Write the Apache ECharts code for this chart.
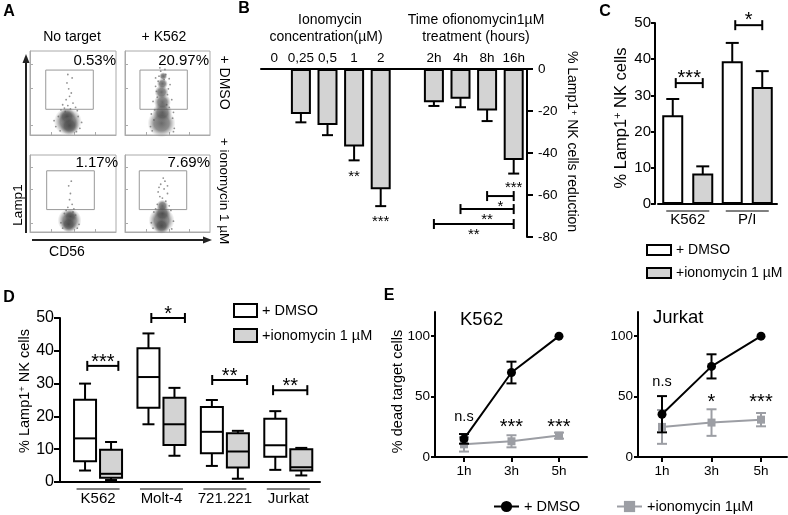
<!DOCTYPE html>
<html><head><meta charset="utf-8">
<script src="https://cdn.jsdelivr.net/npm/echarts@6/dist/echarts.min.js"></script>
<style>html,body{margin:0;padding:0;background:#fff}#c{width:788px;height:515px}</style>
</head><body><div id="c"></div>
<script>
const FONT = '"Liberation Sans", Arial, Helvetica, sans-serif';

// ---------- Panel A : flow cytometry (hand-placed density blobs and dots, data units 0-100) ----------
const flowColTitles = ['No target', '+ K562'];
const flowRowTitles = ['+ DMSO', '+ ionomycin 1 µM'];
const flowPct = ['0.53%', '20.97%', '1.17%', '7.69%'];
const flowCoresNoTargetDMSO = [[44,16,28],[43,22,17],[46,11,19]];
const flowDotsNoTargetDMSO = [[40,32],[44,35],[47,31],[50,38],[42,42],[46,46],[38,36],[53,33],[45,55],[43,62],[48,50],[41,28],[36,30],[55,29],[49,68],[44,72],[30,10],[58,8],[33,22],[56,22],[35,5],[54,4],[60,15],[28,17]];
const flowCoresK562DMSO = [[43,14,28],[44,27,20],[44,39,17],[43,51,14],[44,61,11],[45,70,8]];
const flowDotsK562DMSO = [[35,30],[52,33],[38,45],[50,48],[36,58],[53,60],[40,70],[48,72],[33,40],[55,42],[42,76],[46,66],[31,25],[57,27],[37,52],[51,55],[39,64],[49,36],[34,18],[56,20],[30,10],[58,8],[41,80],[47,78],[36,68],[52,67],[32,5],[57,4]];
const flowCoresNoTargetIono = [[46,15,24],[47,20,14],[45,10,16]];
const flowDotsNoTargetIono = [[44,32],[49,36],[46,42],[51,30],[42,28],[47,50],[45,60],[50,26],[40,24],[53,22],[36,12],[57,10],[38,5],[55,5],[48,66]];
const flowCoresK562Iono = [[43,15,26],[44,24,17],[44,34,12],[43,8,16]];
const flowDotsK562Iono = [[38,36],[48,40],[41,46],[50,50],[36,30],[46,56],[42,62],[52,34],[39,52],[47,66],[34,26],[54,28],[44,44],[31,12],[57,14],[33,5],[55,4],[45,70],[40,58],[50,60]];
const flowGates = [[18.3,30.6,73.6,77.3],[17.6,30.6,73.3,77.3],[19.4,29.1,74.8,79.5],[16.8,29.1,72.6,79.5]];
const flowXTicks = [25,52,76];
const flowYTicks = [12,56,84];

// ---------- Panel B ----------
const concCats = ['0','0,25','0,5','1','2','','2h','4h','8h','16h'];
const reductionMean = ['-', -21.4, -26.7, -36.9, -57.3, '-', -15.8, -14.2, -19.8, -43.3];
const reductionErr = [null, 4, 4.8, 6.6, 8, null, 1.8, 4, 5, 6.5];
const reductionStars = [[3,-49.5,'**'],[4,-71,'***'],[9,-54.8,'***']];
const reductionBrackets = [[8,9,-60.5,'*'],[7,9,-66.7,'**'],[6,9,-73.8,'**']];

// ---------- Panel C ----------
const cCats = ['K562','P/I'];
const cDMSO = [24.5, 39.4];
const cDMSOErr = [4.5, 5.1];
const cIono = [8.4, 32.3];
const cIonoErr = [2.0, 4.4];
const cBrackets = [[0, 33.4, '***'], [1, 49.4, '*']];

// ---------- Panel D ----------
const dCats = ['K562','Molt-4','721.221','Jurkat'];
// [min, Q1, median, Q3, max]
const dDMSO = [[3.5,6.3,13.3,25.1,30],[17.6,22.6,32,40.8,45.3],[4.9,8.8,15.3,22.9,25],[3.7,7.7,11.2,19.3,21.6]];
const dIono = [[0.6,1.3,2.5,9.8,12.2],[8,11.3,17.6,25.7,28.7],[1,4.4,9.3,14.9,15.6],[2,3.5,4.5,10,10.4]];
const dBrackets = [[-0.17,0.32,35.4,'***'],[0.84,1.37,50,'*'],[1.8,2.35,31.1,'**'],[2.76,3.3,28,'**']];

// ---------- Panel E ----------
const eTimes = [1,3,5];
const eTimeLabels = ['1h','3h','5h'];
const k562DMSO = [15, 69.9, 100];
const k562DMSOErr = [4, 9, 0];
const k562Iono = [10.5, 13, 17.7];
const k562IonoErr = [6, 5, 2.5];
const jurkatDMSO = [35.4, 75, 100];
const jurkatDMSOErr = [15, 10, 0];
const jurkatIono = [24.9, 28.5, 30.9];
const jurkatIonoErr = [14, 11, 5.5];
const k562Sig = [[1,33,'n.s'],[3,29,'***'],[5,29,'***']];
const jurkatSig = [[1,62,'n.s'],[3,49.6,'*'],[5,49.6,'***']];

// ---------------- helpers ----------------
function starText(x, yGlyph, text, fs) {
  const isStar = text.indexOf('*') >= 0;
  return {type:'text', x: x, y: yGlyph + (isStar ? 0.27*fs : 0), z2: 10,
    style:{text: text, fontSize: fs, fontFamily: FONT, fill:'#000',
      align:'center', verticalAlign:'middle', textAlign:'center', textVerticalAlign:'middle'}};
}
function errRender(offset, color, cap, lw) {
  return function (params, api) {
    const x = api.value(0), m = api.value(1), e = api.value(2);
    const top = api.coord([x, m + e]), bot = api.coord([x, m - e]);
    const cx = top[0] + offset;
    const st = {stroke: color, lineWidth: lw};
    return {type:'group', children:[
      {type:'line', shape:{x1:cx, y1:top[1], x2:cx, y2:bot[1]}, style:st},
      {type:'line', shape:{x1:cx-cap, y1:top[1], x2:cx+cap, y2:top[1]}, style:st},
      {type:'line', shape:{x1:cx-cap, y1:bot[1], x2:cx+cap, y2:bot[1]}, style:st}
    ]};
  };
}
function errData(xs, means, errs) {
  const out = [];
  xs.forEach((x, i) => { if (errs[i]) out.push([x, means[i], errs[i]]); });
  return out;
}
function underlineRender(half) {
  return function (params, api) {
    const p = api.coord([api.value(0), 0]);
    return {type:'line', shape:{x1:p[0]-half, y1:p[1]+7, x2:p[0]+half, y2:p[1]+7}, style:{stroke:'#000', lineWidth:1}};
  };
}
function bracketGroup(xa, xb, y, text, below, fs, gap) {
  const st = {stroke:'#000', lineWidth:2};
  return {type:'group', children:[
    {type:'line', shape:{x1:xa, y1:y, x2:xb, y2:y}, style:st},
    {type:'line', shape:{x1:xa, y1:y-5, x2:xa, y2:y+5}, style:st},
    {type:'line', shape:{x1:xb, y1:y-5, x2:xb, y2:y+5}, style:st},
    starText((xa+xb)/2, below ? y + gap : y - gap, text, fs)
  ]};
}
function boxRender(offset, fill) {
  return function (params, api) {
    const i = api.value(0);
    const p = [1,2,3,4,5].map(k => api.coord([i, api.value(k)]));
    const cx = p[0][0] + offset, hw = 11, cw = 6;
    const st = {stroke:'#000', lineWidth:2};
    return {type:'group', children:[
      {type:'line', shape:{x1:cx, y1:p[4][1], x2:cx, y2:p[3][1]}, style:st},
      {type:'line', shape:{x1:cx, y1:p[1][1], x2:cx, y2:p[0][1]}, style:st},
      {type:'line', shape:{x1:cx-cw, y1:p[4][1], x2:cx+cw, y2:p[4][1]}, style:st},
      {type:'line', shape:{x1:cx-cw, y1:p[0][1], x2:cx+cw, y2:p[0][1]}, style:st},
      {type:'rect', shape:{x:cx-hw, y:p[3][1], width:2*hw, height:p[1][1]-p[3][1]}, style:{fill:fill, stroke:'#000', lineWidth:2}},
      {type:'line', shape:{x1:cx-hw, y1:p[2][1], x2:cx+hw, y2:p[2][1]}, style:st}
    ]};
  };
}

const chart = echarts.init(document.getElementById('c'), null, {renderer:'canvas'});

// ---------------- grids ----------------
const grids = [
  {left:30, top:51, width:86, height:84, show:true, borderColor:'#aaa', borderWidth:1, backgroundColor:'#fff'},
  {left:125, top:51, width:85, height:84, show:true, borderColor:'#aaa', borderWidth:1, backgroundColor:'#fff'},
  {left:30, top:155, width:86, height:77, show:true, borderColor:'#aaa', borderWidth:1, backgroundColor:'#fff'},
  {left:125, top:155, width:85, height:77, show:true, borderColor:'#aaa', borderWidth:1, backgroundColor:'#fff'},
  {left:261, top:69, width:266, height:168},
  {left:658, top:23, width:119, height:181},
  {left:60, top:318, width:260, height:164},
  {left:435, top:312, width:152, height:145},
  {left:638, top:312, width:149, height:145}
];

const xAxes = [], yAxes = [];
for (let i = 0; i < 4; i++) {
  xAxes.push({gridIndex:i, type:'value', min:0, max:100, axisLine:{onZero:false, lineStyle:{color:'#aaa', width:1}},
    axisTick:{inside:true, length:3, customValues:flowXTicks, lineStyle:{color:'#aaa'}}, axisLabel:{show:false}, splitLine:{show:false}});
  yAxes.push({gridIndex:i, type:'value', min:0, max:100, axisLine:{onZero:false, lineStyle:{color:'#aaa', width:1}},
    axisTick:{inside:true, length:3, customValues:flowYTicks, lineStyle:{color:'#aaa'}}, axisLabel:{show:false}, splitLine:{show:false}});
}
const blackLine = {onZero:false, lineStyle:{color:'#000', width:2}};
// B
xAxes.push({gridIndex:4, type:'category', data:concCats, position:'top', axisLine:blackLine, axisTick:{show:false},
  axisLabel:{fontSize:13.5, margin:4, color:'#000', fontFamily:FONT, interval:0}});
yAxes.push({gridIndex:4, type:'value', min:-80, max:0, interval:20, position:'right', axisLine:{show:true, onZero:false, lineStyle:{color:'#000', width:2}},
  axisTick:{show:true, length:6, lineStyle:{color:'#000', width:2}}, axisLabel:{fontSize:13.5, margin:11, color:'#000', fontFamily:FONT}, splitLine:{show:false}});
// C
xAxes.push({gridIndex:5, type:'category', data:cCats, axisLine:blackLine, axisTick:{show:false},
  axisLabel:{fontSize:15, margin:8, color:'#000', fontFamily:FONT}});
yAxes.push({gridIndex:5, type:'value', min:0, max:50, interval:10, offset:3, axisLine:{show:true, onZero:false, lineStyle:{color:'#000', width:2}},
  axisTick:{show:true, length:4, lineStyle:{color:'#000', width:2}}, axisLabel:{fontSize:15, margin:4, color:'#000', fontFamily:FONT}, splitLine:{show:false}});
// D
xAxes.push({gridIndex:6, type:'value', min:-0.6, max:3.5, axisLine:blackLine, axisTick:{show:false}, splitLine:{show:false},
  axisLabel:{customValues:[0,1,2,3], formatter:v => dCats[Math.round(v)], fontSize:15, margin:9, color:'#000', fontFamily:FONT}});
yAxes.push({gridIndex:6, type:'value', min:0, max:50, interval:10, axisLine:{show:true, onZero:false, lineStyle:{color:'#000', width:2}},
  axisTick:{show:true, length:6, lineStyle:{color:'#000', width:2}}, axisLabel:{fontSize:16, margin:6, color:'#000', fontFamily:FONT}, splitLine:{show:false}});
// E
[[7,-0.22,6.18],[8,0.03,6.05]].forEach(([g, mn, mx]) => {
  xAxes.push({gridIndex:g, type:'value', min:mn, max:mx, axisLine:blackLine, splitLine:{show:false},
    axisTick:{show:true, customValues:eTimes, length:5, lineStyle:{color:'#000', width:2}},
    axisLabel:{customValues:eTimes, formatter:v => eTimeLabels[eTimes.indexOf(Math.round(v))], fontSize:13.5, margin:7, color:'#000', fontFamily:FONT}});
  yAxes.push({gridIndex:g, type:'value', min:0, max:120, axisLine:{show:true, onZero:false, lineStyle:{color:'#000', width:2}}, splitLine:{show:false},
    axisTick:{show:true, customValues:[0,50,100], length:4, lineStyle:{color:'#000', width:2}},
    axisLabel:{customValues:[0,50,100], fontSize:13.5, margin:5, color:'#000', fontFamily:FONT}});
});

// ---------------- series ----------------
const blobColor = new echarts.graphic.RadialGradient(0.5, 0.5, 0.5, [
  {offset:0, color:'rgba(60,60,60,0.95)'},
  {offset:0.55, color:'rgba(80,80,80,0.8)'},
  {offset:1, color:'rgba(130,130,130,0)'}]);
const flowCores = [flowCoresNoTargetDMSO, flowCoresK562DMSO, flowCoresNoTargetIono, flowCoresK562Iono];
const flowDots = [flowDotsNoTargetDMSO, flowDotsK562DMSO, flowDotsNoTargetIono, flowDotsK562Iono];
const series = [];
for (let i = 0; i < 4; i++) {
  const g = flowGates[i];
  series.push({type:'scatter', name:'flow'+i, xAxisIndex:i, yAxisIndex:i, data:flowDots[i], symbolSize:1.8, silent:true,
    itemStyle:{color:'#777'},
    markArea:{silent:true, itemStyle:{color:'rgba(0,0,0,0)', borderColor:'#999', borderWidth:1}, data:[[{coord:[g[0], g[1]]}, {coord:[g[2], g[3]]}]]}});
  series.push({type:'scatter', name:'flowcore'+i, xAxisIndex:i, yAxisIndex:i, data:flowCores[i], symbolSize:v => v[2], silent:true,
    itemStyle:{color:blobColor}});
}
// B
series.push({type:'bar', name:'reduction', xAxisIndex:4, yAxisIndex:4, data:reductionMean, barWidth:20,
  itemStyle:{color:'#d3d3d3', borderColor:'#000', borderWidth:2}});
series.push({type:'custom', name:'reductionErr', xAxisIndex:4, yAxisIndex:4, encode:{x:0, y:1},
  data:errData(concCats.map((c, i) => i), reductionMean, reductionErr), renderItem:errRender(0, '#000', 5.5, 2)});
series.push({type:'custom', name:'reductionStars', xAxisIndex:4, yAxisIndex:4, encode:{x:0, y:1},
  data:reductionStars.map(s => [s[0], s[1]]),
  renderItem:(params, api) => { const p = api.coord([api.value(0), api.value(1)]); return starText(p[0], p[1], reductionStars[params.dataIndex][2], 15); }});
series.push({type:'custom', name:'reductionBrackets', xAxisIndex:4, yAxisIndex:4, encode:{x:0, y:2},
  data:reductionBrackets.map(b => [b[0], b[1], b[2]]),
  renderItem:(params, api) => { const a = api.coord([api.value(0), api.value(2)]), b = api.coord([api.value(1), api.value(2)]);
    return bracketGroup(a[0], b[0], a[1], reductionBrackets[params.dataIndex][3], true, 15, 7); }});
// C
series.push({type:'bar', name:'+ DMSO', xAxisIndex:5, yAxisIndex:5, data:cDMSO, barWidth:21, barGap:'43%',
  itemStyle:{color:'#fff', borderColor:'#000', borderWidth:2}});
series.push({type:'bar', name:'+ionomycin 1 µM', xAxisIndex:5, yAxisIndex:5, data:cIono, barWidth:21, barGap:'43%',
  itemStyle:{color:'#d3d3d3', borderColor:'#000', borderWidth:2}});
series.push({type:'custom', name:'cErr1', xAxisIndex:5, yAxisIndex:5, encode:{x:0, y:1}, data:errData([0,1], cDMSO, cDMSOErr), renderItem:errRender(-15, '#000', 6.5, 2)});
series.push({type:'custom', name:'cErr2', xAxisIndex:5, yAxisIndex:5, encode:{x:0, y:1}, data:errData([0,1], cIono, cIonoErr), renderItem:errRender(15, '#000', 6.5, 2)});
series.push({type:'custom', name:'cUnder', xAxisIndex:5, yAxisIndex:5, encode:{x:0}, data:[[0],[1]], renderItem:underlineRender(21.5)});
series.push({type:'custom', name:'cBr', xAxisIndex:5, yAxisIndex:5, encode:{x:0, y:1}, data:cBrackets.map(b => [b[0], b[1]]),
  renderItem:(params, api) => { const p = api.coord([api.value(0), api.value(1)]);
    return bracketGroup(p[0]-12, p[0]+15, p[1], cBrackets[params.dataIndex][2], false, 20, 10); }});
// D
series.push({type:'custom', name:'+ DMSO', xAxisIndex:6, yAxisIndex:6, encode:{x:0, y:[1,2,3,4,5]},
  data:dDMSO.map((r, i) => [i].concat(r)), renderItem:boxRender(-13, '#fff')});
series.push({type:'custom', name:'+ionomycin 1 µM', xAxisIndex:6, yAxisIndex:6, encode:{x:0, y:[1,2,3,4,5]},
  data:dIono.map((r, i) => [i].concat(r)), renderItem:boxRender(13, '#d3d3d3')});
series.push({type:'custom', name:'dUnder', xAxisIndex:6, yAxisIndex:6, encode:{x:0}, data:[[0],[1],[2],[3]], renderItem:underlineRender(21.5)});
series.push({type:'custom', name:'dBr', xAxisIndex:6, yAxisIndex:6, encode:{x:0, y:2}, data:dBrackets.map(b => [b[0], b[1], b[2]]),
  renderItem:(params, api) => { const a = api.coord([api.value(0), api.value(2)]), b = api.coord([api.value(1), api.value(2)]);
    return bracketGroup(a[0], b[0], a[1], dBrackets[params.dataIndex][3], false, 20, 9); }});
// E
const GRAY = '#9c9ea4';
[[7, k562DMSO, k562DMSOErr, k562Iono, k562IonoErr, k562Sig], [8, jurkatDMSO, jurkatDMSOErr, jurkatIono, jurkatIonoErr, jurkatSig]].forEach(([g, dm, dmE, io, ioE, sig]) => {
  series.push({type:'custom', name:'eErrI'+g, xAxisIndex:g, yAxisIndex:g, encode:{x:0, y:1}, data:errData(eTimes, io, ioE), renderItem:errRender(0, GRAY, 5, 2), z:2});
  series.push({type:'line', name:'+ionomycin 1µM', xAxisIndex:g, yAxisIndex:g, data:eTimes.map((t, i) => [t, io[i]]),
    symbol:'rect', symbolSize:8, lineStyle:{color:GRAY, width:2}, itemStyle:{color:GRAY}, z:3});
  series.push({type:'custom', name:'eErrD'+g, xAxisIndex:g, yAxisIndex:g, encode:{x:0, y:1}, data:errData(eTimes, dm, dmE), renderItem:errRender(0, '#000', 5, 2), z:4});
  series.push({type:'line', name:'+ DMSO ', xAxisIndex:g, yAxisIndex:g, data:eTimes.map((t, i) => [t, dm[i]]),
    symbol:'circle', symbolSize:9, lineStyle:{color:'#000', width:2}, itemStyle:{color:'#000'}, z:5});
  series.push({type:'custom', name:'eSig'+g, xAxisIndex:g, yAxisIndex:g, encode:{x:0, y:1}, data:sig.map(s => [s[0], s[1]]),
    renderItem:(params, api) => { const p = api.coord([api.value(0), api.value(1)]); const t = sig[params.dataIndex][2];
      return starText(p[0], p[1], t, t === 'n.s' ? 14.5 : 20); }});
});

// ---------------- graphic texts ----------------
function txt(text, x, y, fs, opts) {
  opts = opts || {};
  const el = {type:'text', x:x, y:y, rotation:opts.rot || 0, z:100,
    style:{text:text, fontSize:fs, fontFamily:FONT, fontWeight:opts.bold ? 'bold' : 'normal', fill:'#000',
      align:opts.align || 'center', verticalAlign:'middle', textAlign:opts.align || 'center', textVerticalAlign:'middle'}};
  if (opts.rich) el.style.rich = opts.rich;
  return el;
}
const supRich = fs => ({sup:{fontSize:fs*0.65, verticalAlign:'top', lineHeight:fs*0.8, fontFamily:FONT}});
const lampTitle = '% Lamp1{sup|+} NK cells';
const R = Math.PI / 2;
const graphics = [
  txt('A', 9, 12, 16, {bold:true}), txt('B', 244, 9, 16, {bold:true}), txt('C', 605, 12, 16, {bold:true}),
  txt('D', 9, 298, 16, {bold:true}), txt('E', 389, 296, 16, {bold:true}),
  txt(flowColTitles[0], 72, 37, 14), txt(flowColTitles[1], 164, 37, 14),
  txt(flowRowTitles[0], 223.5, 82.5, 14, {rot:-R}), txt(flowRowTitles[1], 223.5, 191, 13.5, {rot:-R}),
  txt(flowPct[0], 116, 61, 15, {align:'right'}), txt(flowPct[1], 209, 61, 15, {align:'right'}),
  txt(flowPct[2], 118, 163, 15, {align:'right'}), txt(flowPct[3], 210, 163, 15, {align:'right'}),
  txt('Lamp1', 18, 205, 13.5, {rot:R}), txt('CD56', 67, 252, 14),
  {type:'line', shape:{x1:26, y1:233, x2:26, y2:60}, style:{stroke:'#222', lineWidth:2}},
  {type:'polygon', shape:{points:[[26,54],[22.5,63],[29.5,63]]}, style:{fill:'#222'}},
  {type:'line', shape:{x1:32, y1:240, x2:205, y2:240}, style:{stroke:'#222', lineWidth:2}},
  {type:'polygon', shape:{points:[[212,240],[203,236.5],[203,243.5]]}, style:{fill:'#222'}},
  txt('Ionomycin', 330, 20, 14), txt('concentration(µM)', 326, 37.5, 14),
  txt('Time ofionomycin1µM', 476, 20, 14), txt('treatment (hours)', 476, 37.5, 14),
  txt(lampTitle + ' reduction', 571.5, 141.5, 14, {rot:-R, rich:supRich(14)}),
  txt(lampTitle, 621, 118, 16.5, {rot:R, rich:supRich(16.5)}),
  txt(lampTitle, 25, 391, 14.5, {rot:R, rich:supRich(14.5)}),
  txt('% dead target cells', 398, 391.5, 14.5, {rot:R}),
  txt('K562', 460, 319.5, 18.5, {align:'left'}), txt('Jurkat', 653, 318, 18.5, {align:'left'})
];

chart.setOption({
  animation:false,
  backgroundColor:'#fff',
  textStyle:{fontFamily:FONT},
  grid:grids, xAxis:xAxes, yAxis:yAxes, series:series,
  legend:[
    {orient:'vertical', left:641, top:238, itemWidth:24, itemHeight:10, itemGap:9, selectedMode:false, icon:'rect',
      data:['+ DMSO','+ionomycin 1 µM'], textStyle:{fontSize:14, color:'#000', fontFamily:FONT}},
    {orient:'vertical', left:228, top:298, itemWidth:23, itemHeight:13, itemGap:10, selectedMode:false, icon:'rect',
      data:['+ DMSO','+ionomycin 1 µM'], textStyle:{fontSize:14.5, color:'#000', fontFamily:FONT}},
    {orient:'horizontal', left:488, top:494, itemWidth:25, itemHeight:14, itemGap:32, selectedMode:false,
      data:['+ DMSO ','+ionomycin 1µM'], textStyle:{fontSize:14.5, color:'#000', fontFamily:FONT}}
  ],
  graphic:graphics
});
</script></body></html>
